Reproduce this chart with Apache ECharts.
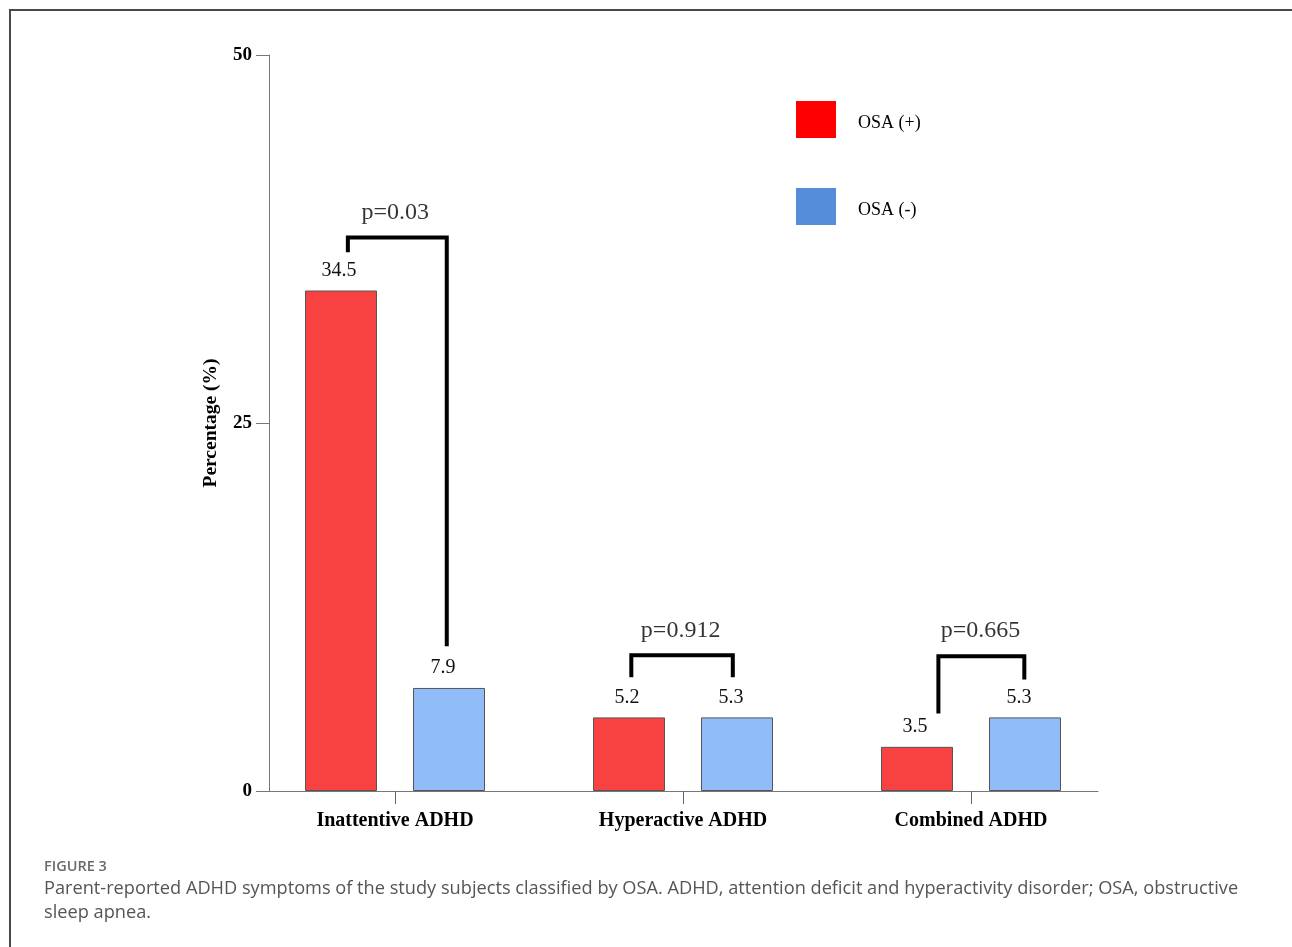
<!DOCTYPE html>
<html>
<head>
<meta charset="utf-8">
<script src="https://cdn.jsdelivr.net/npm/echarts@6/dist/echarts.min.js"></script>
<style>
  html, body { margin: 0; padding: 0; background: #fff; }
  #wrap { position: relative; width: 1292px; height: 947px; overflow: hidden; }
  #chart { position: absolute; left: 0; top: 0; width: 1292px; height: 947px; }
  #frame { position: absolute; left: 9px; top: 9px; width: 1400px; height: 1000px;
           border-top: 2px solid #4a4a4a; border-left: 2px solid #4a4a4a; pointer-events: none; }
  #figlabel { position: absolute; left: 44px; top: 856px; font-family: "Open Sans", "Noto Sans", sans-serif;
              font-size: 14.5px; font-weight: 600; color: #6a6a6a; }
  #caption { position: absolute; left: 44px; top: 875px; width: 1240px; font-family: "Open Sans", "Noto Sans", sans-serif;
             font-size: 18.2px; line-height: 24px; color: #555; white-space: nowrap; }
</style>
</head>
<body>
<div id="wrap">
  <div id="chart"></div>
  <div id="frame"></div>
  <div id="figlabel">FIGURE 3</div>
  <div id="caption">Parent-reported ADHD symptoms of the study subjects classified by OSA. ADHD, attention deficit and hyperactivity disorder; OSA, obstructive<br>sleep apnea.</div>
</div>
<script>
// ---- data ----
const categories = ['Inattentive ADHD', 'Hyperactive ADHD', 'Combined ADHD'];
const seriesNames = ['OSA (+)', 'OSA (-)'];
// bar heights as drawn in the figure
const osaPosHeights = [34, 5, 3];
const osaNegHeights = [7, 5, 5];
// values printed above the bars
const osaPosLabels = ['34.5', '5.2', '3.5'];
const osaNegLabels = ['7.9', '5.3', '5.3'];
const yTicks = [0, 25, 50];
// significance brackets: [leftX, leftBottomY, topY, rightX, rightBottomY], x in category units
const bracketShapes = [
  [-0.164, 36.6, 37.6, 0.179, 9.83],
  [0.819, 7.72, 9.22, 1.171, 7.72],
  [1.884, 5.26, 9.15, 2.182, 7.57]
];
const pTexts = ['p=0.03', 'p=0.912', 'p=0.665'];
const pTextPos = [[0.0, 39.3], [0.99, 10.9], [2.03, 10.9]];

const serif = '"Liberation Serif", "Times New Roman", serif';
const chart = echarts.init(document.getElementById('chart'));

const bracketSeries = bracketShapes.map(b => ({
  type: 'line', xAxisIndex: 1, yAxisIndex: 1, silent: true, symbol: 'none',
  lineStyle: { color: '#000', width: 4, cap: 'butt', join: 'miter' },
  data: [[b[0], b[1]], [b[0], b[2]], [b[3], b[2]], [b[3], b[4]]],
  z: 5
}));

const option = {
  animation: false,
  grid: [
    { left: 251, right: 177, top: 55, bottom: 156 },
    { left: 269, right: 194, top: 55, bottom: 156 }
  ],
  legend: {
    orient: 'vertical', left: 791, top: 96,
    itemWidth: 40, itemHeight: 37, itemGap: 50,
    icon: 'rect',
    data: [
      { name: seriesNames[0], itemStyle: { color: '#ff0000', borderWidth: 0 } },
      { name: seriesNames[1], itemStyle: { color: '#568dd9', borderWidth: 0 } }
    ],
    formatter: name => '{t|' + name + '}',
    textStyle: {
      fontFamily: serif, fontSize: 18, color: '#000',
      rich: { t: { fontFamily: serif, fontSize: 18, color: '#000', padding: [8, 0, 0, 17] } }
    }
  },
  xAxis: [
    {
      type: 'category', gridIndex: 0, data: categories,
      axisLine: { show: false },
      axisTick: { show: true, alignWithLabel: true, length: 13, lineStyle: { color: '#666', width: 1 } },
      axisLabel: { margin: 20, fontFamily: serif, fontWeight: 'bold', fontSize: 20, color: '#000' }
    },
    {
      type: 'value', gridIndex: 1, min: -0.4375, max: 2.4375,
      axisLine: { show: true, onZero: false, lineStyle: { color: '#777', width: 1 } },
      axisTick: { show: false }, axisLabel: { show: false }, splitLine: { show: false }
    }
  ],
  yAxis: [
    { type: 'value', gridIndex: 0, min: 0, max: 50, show: false, splitLine: { show: false } },
    {
      type: 'value', gridIndex: 1, min: 0, max: 50, interval: 25,
      name: 'Percentage (%)', nameLocation: 'middle', nameGap: 48, nameRotate: 90,
      nameTextStyle: { fontFamily: serif, fontWeight: 'bold', fontSize: 19.5, color: '#000' },
      axisLine: { show: true, onZero: false, lineStyle: { color: '#777', width: 1 } },
      axisTick: { show: true, length: 13, lineStyle: { color: '#777' } },
      axisLabel: { margin: 17, fontFamily: serif, fontWeight: 'bold', fontSize: 19, color: '#000',
                   formatter: v => yTicks.includes(v) ? String(v) : '' },
      splitLine: { show: false }
    }
  ],
  series: [
    {
      name: seriesNames[0], type: 'bar', xAxisIndex: 0, yAxisIndex: 0,
      barWidth: 72, barGap: '50%',
      itemStyle: { color: '#f84242', borderColor: '#555', borderWidth: 1 },
      label: { show: true, position: 'top', distance: 10, offset: [-2, 0],
               fontFamily: serif, fontSize: 20, color: '#111',
               formatter: p => osaPosLabels[p.dataIndex] },
      data: osaPosHeights
    },
    {
      name: seriesNames[1], type: 'bar', xAxisIndex: 0, yAxisIndex: 0,
      barWidth: 72, barGap: '50%',
      itemStyle: { color: '#90bdf7', borderColor: '#555', borderWidth: 1 },
      label: { show: true, position: 'top', distance: 10, offset: [-6, 0],
               fontFamily: serif, fontSize: 20, color: '#111',
               formatter: p => osaNegLabels[p.dataIndex] },
      data: osaNegHeights
    },
    ...bracketSeries,
    {
      type: 'scatter', xAxisIndex: 1, yAxisIndex: 1, symbolSize: 0, silent: true,
      label: { show: true, position: 'inside', fontFamily: serif, fontSize: 24, color: '#000',
               formatter: p => pTexts[p.dataIndex] },
      data: pTextPos
    }
  ]
};
chart.setOption(option);
</script>
</body>
</html>
